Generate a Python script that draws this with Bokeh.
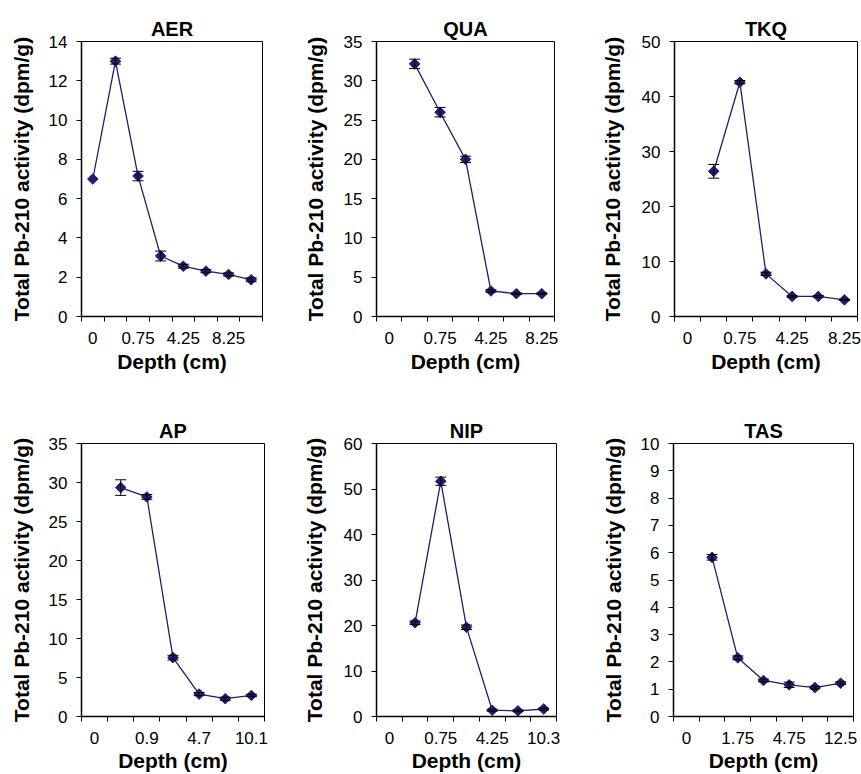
import numpy as np
from bokeh.plotting import figure
from bokeh.models import Range1d, FixedTicker, ColumnDataSource, Whisker, TeeHead
from bokeh.layouts import row, column
from bokeh.embed import file_html
from bokeh.resources import INLINE

# ---------------- data ----------------
aer_labels = ["0", "", "0.75", "", "4.25", "", "8.25", ""]
aer_vals = [7.0, 13.0, 7.15, 3.08, 2.56, 2.31, 2.14, 1.87]
aer_err = [0.0, 0.15, 0.24, 0.25, 0.1, 0.08, 0.08, 0.1]

qua_labels = ["0", "", "0.75", "", "4.25", "", "8.25"]
qua_vals = [None, 32.15, 26.0, 20.0, 3.25, 2.9, 2.9]
qua_err = [None, 0.6, 0.6, 0.4, 0.15, 0.1, 0.1]

tkq_labels = ["0", "", "0.75", "", "4.25", "", "8.25"]
tkq_vals = [None, 26.4, 42.6, 7.75, 3.65, 3.65, 3.03]
tkq_err = [None, 1.25, 0.3, 0.3, 0.15, 0.15, 0.1]

ap_labels = ["0", "", "0.9", "", "4.7", "", "10.1"]
ap_vals = [None, 29.35, 28.15, 7.55, 2.87, 2.28, 2.7]
ap_err = [None, 1.0, 0.3, 0.3, 0.2, 0.2, 0.15]

nip_labels = ["0", "", "0.75", "", "4.25", "", "10.3"]
nip_vals = [None, 20.6, 51.7, 19.6, 1.38, 1.25, 1.65]
nip_err = [None, 0.4, 0.9, 0.5, 0.2, 0.2, 0.2]

tas_labels = ["0", "", "1.75", "", "4.75", "", "12.5"]
tas_vals = [None, 5.83, 2.15, 1.32, 1.16, 1.06, 1.22]
tas_err = [None, 0.1, 0.07, 0.05, 0.1, 0.05, 0.05]

y_label = "Total Pb-210 activity (dpm/g)"
x_label = "Depth (cm)"

NAVY = "#221C70"
FONT = "Liberation Sans"


def panel(title, labels, vals, errs, ymax, ystep, width, height,
          bl, br, bt, bb, ylab_standoff, xlab_standoff=3):
    n = len(labels)
    p = figure(width=width, height=height, output_backend="svg",
               toolbar_location=None, title=title,
               x_range=Range1d(0, n), y_range=Range1d(0, ymax),
               min_border_left=bl, min_border_right=br,
               min_border_top=bt, min_border_bottom=bb)
    p.background_fill_color = "white"
    p.border_fill_color = "white"
    p.outline_line_color = "black"
    p.outline_line_width = 1
    p.grid.visible = False

    p.title.align = "center"
    p.title.text_font = FONT
    p.title.text_font_size = "20px"
    p.title.text_font_style = "bold"
    p.title.text_color = "black"
    p.title.standoff = 4

    xs = [i + 0.5 for i in range(n)]
    px, py = [], []
    wx, wu, wl = [], [], []
    for x, v, e in zip(xs, vals, errs):
        if v is None:
            continue
        px.append(x)
        py.append(v)
        if e:
            wx.append(x)
            wu.append(v + e)
            wl.append(v - e)
    src = ColumnDataSource(dict(x=px, y=py))
    wsrc = ColumnDataSource(dict(x=wx, upper=wu, lower=wl))

    p.line("x", "y", source=src, line_color=NAVY, line_width=1.3)
    p.scatter("x", "y", source=src, marker="square", angle=np.pi / 4,
              size=7.5, fill_color=NAVY, line_color=NAVY)
    w = Whisker(source=wsrc, base="x", upper="upper", lower="lower",
                dimension="height", line_color="black", line_width=1,
                upper_head=TeeHead(size=11, line_color="black", line_width=1),
                lower_head=TeeHead(size=11, line_color="black", line_width=1),
                level="annotation")
    p.add_layout(w)

    # x axis: category boundaries as tick marks, labels at category centres
    xa = p.xaxis[0]
    lab_pos = [xs[i] for i in range(n) if labels[i]]
    xa.ticker = FixedTicker(ticks=lab_pos, minor_ticks=list(range(n + 1)))
    xa.major_label_overrides = {xs[i]: labels[i] for i in range(n) if labels[i]}
    xa.major_tick_out = 5
    xa.major_tick_in = 0
    xa.minor_tick_out = 5
    xa.minor_tick_in = 0
    xa.minor_tick_line_color = "black"
    xa.major_label_standoff = 10
    xa.axis_label = x_label
    xa.axis_label_standoff = xlab_standoff

    ya = p.yaxis[0]
    ya.ticker = FixedTicker(ticks=list(range(0, ymax + 1, ystep)), minor_ticks=[])
    ya.major_tick_out = 5
    ya.major_tick_in = 0
    ya.minor_tick_line_color = None
    ya.major_label_standoff = 9
    ya.axis_label = y_label
    ya.axis_label_standoff = ylab_standoff

    for ax in (xa, ya):
        ax.axis_line_color = "black"
        ax.axis_line_width = 1.5
        ax.major_label_text_font = FONT
        ax.major_label_text_font_size = "17px"
        ax.major_label_text_color = "black"
        ax.axis_label_text_font = FONT
        ax.axis_label_text_font_size = "21px"
        ax.axis_label_text_font_style = "bold"
        ax.axis_label_text_color = "black"
    ya.major_tick_line_color = "black"
    xa.major_tick_line_color = None
    return p


f1 = panel("AER", aer_labels, aer_vals, aer_err, 14, 2, 290, 401, 81, 28, 41, 85, 13)
f2 = panel("QUA", qua_labels, qua_vals, qua_err, 35, 5, 295, 401, 86, 31, 41, 85, 14)
f3 = panel("TKQ", tkq_labels, tkq_vals, tkq_err, 50, 10, 276, 401, 89, 4, 41, 85, 15)
f4 = panel("AP", ap_labels, ap_vals, ap_err, 35, 5, 290, 373, 81, 26, 42, 56, 13, 2)
f5 = panel("NIP", nip_labels, nip_vals, nip_err, 60, 10, 295, 373, 86, 29, 42, 56, 15, 2)
f6 = panel("TAS", tas_labels, tas_vals, tas_err, 10, 1, 276, 373, 88, 8, 42, 56, 13, 2)

layout = column(row(f1, f2, f3), row(f4, f5, f6))
open("out.html", "w").write(file_html(layout, INLINE))
